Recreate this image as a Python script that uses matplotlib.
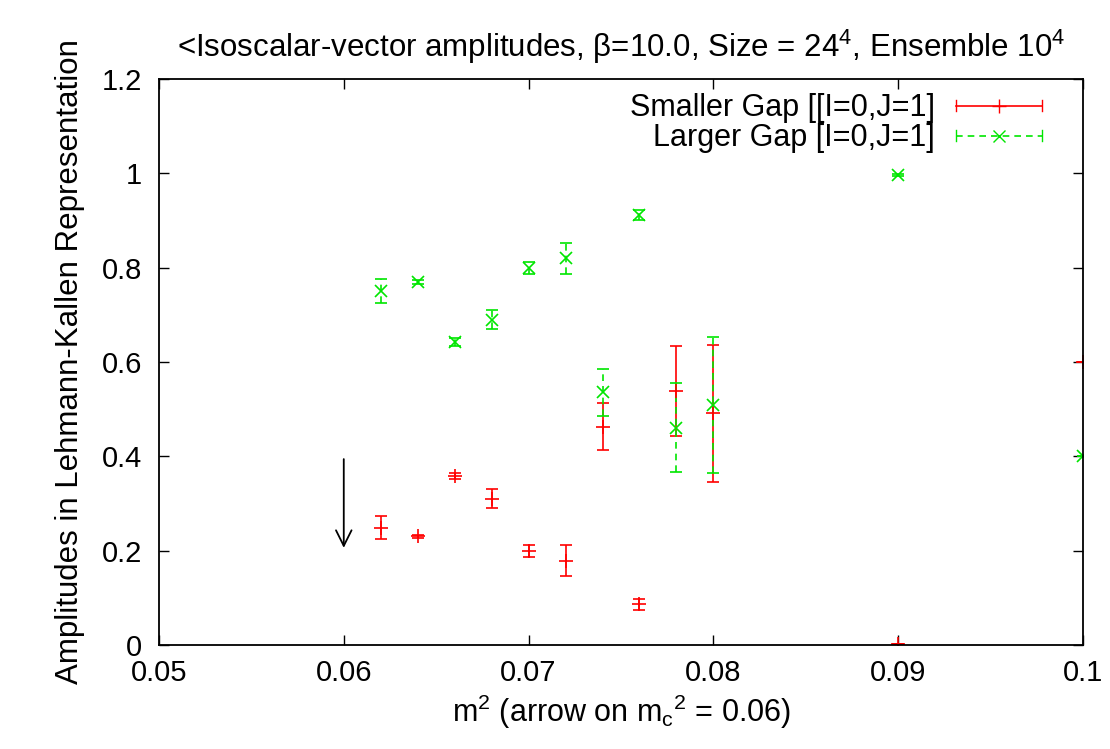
import numpy as np
import matplotlib.pyplot as plt
from matplotlib.lines import Line2D
from matplotlib.legend_handler import HandlerLine2D

plt.rcParams['font.family'] = ['Liberation Sans', 'DejaVu Sans']
plt.rcParams['mathtext.default'] = 'regular'

# smaller gap [I=0,J=1]
m2_small = [0.062, 0.064, 0.066, 0.068, 0.070, 0.072, 0.074, 0.076, 0.078, 0.080, 0.090, 0.100]
amp_small = [0.249, 0.230, 0.358, 0.310, 0.199, 0.179, 0.463, 0.086, 0.538, 0.491, 0.002, 0.600]
err_small = [0.025, 0.003, 0.007, 0.020, 0.012, 0.033, 0.050, 0.012, 0.095, 0.145, 0.0, 0.0]

# larger gap [I=0,J=1]
m2_large = [0.062, 0.064, 0.066, 0.068, 0.070, 0.072, 0.074, 0.076, 0.078, 0.080, 0.090, 0.100]
amp_large = [0.751, 0.770, 0.642, 0.690, 0.799, 0.820, 0.536, 0.912, 0.461, 0.509, 0.996, 0.401]
err_large = [0.025, 0.004, 0.008, 0.020, 0.012, 0.033, 0.050, 0.010, 0.095, 0.145, 0.002, 0.0]

m2_c = 0.06
arrow_from = 0.4
arrow_to = 0.2

red = '#ff0000'
green = '#00e600'


class CapHandler(HandlerLine2D):
    # gnuplot style legend sample: line with caps at both ends
    def create_artists(self, legend, orig_handle, xdescent, ydescent,
                       width, height, fontsize, trans):
        arts = super().create_artists(legend, orig_handle, xdescent, ydescent,
                                      width, height, fontsize, trans)
        y = height / 2 - ydescent
        for x in (-xdescent, width - xdescent):
            cap = Line2D([x, x], [y - 4, y + 4], color=orig_handle.get_color(),
                         lw=1, transform=trans)
            arts.append(cap)
        return arts


fig = plt.figure(figsize=(11.1, 7.49), dpi=100)
ax = fig.add_axes([0.1432, 0.1389, 0.8325, 0.7556])

ax.errorbar(m2_small, amp_small, yerr=err_small, fmt='+', color=red,
            ms=10, mew=1.2, elinewidth=1.2, capsize=4, capthick=1.2)
eb = ax.errorbar(m2_large, amp_large, yerr=err_large, fmt='x', color=green,
                 ms=9, mew=1.2, elinewidth=1.2, capsize=4, capthick=1.2)
eb[2][0].set_linestyle((0, (4, 3)))

ax.annotate('', xy=(m2_c, arrow_to), xytext=(m2_c, arrow_from),
            arrowprops=dict(arrowstyle='->', color='black', lw=1.3,
                            mutation_scale=28))

ax.set_xlim(0.05, 0.1)
ax.set_ylim(0, 1.2)
ax.set_xticks(np.arange(0.05, 0.1001, 0.01))
ax.set_xticklabels(['0.05', '0.06', '0.07', '0.08', '0.09', '0.1'])
ax.set_yticks(np.arange(0, 1.201, 0.2))
ax.set_yticklabels(['0', '0.2', '0.4', '0.6', '0.8', '1', '1.2'])
ax.tick_params(direction='in', length=7, width=1, top=True, right=True,
               labelsize=21)
ax.tick_params(axis='x', pad=10)
ax.tick_params(axis='y', pad=12)
for s in ax.spines.values():
    s.set_linewidth(1.3)

ax.set_title('<Isoscalar-vector amplitudes, β=10.0, Size = 24$^4$, Ensemble 10$^4$',
             fontsize=22.5, pad=16)
ax.set_xlabel('m$^2$ (arrow on m$_c$$^2$ = 0.06)', fontsize=22, labelpad=4)
ax.set_ylabel('Amplitudes in Lehmann-Kallen Representation', fontsize=22.5, labelpad=12)

h1 = Line2D([], [], color=red, marker='+', ms=10, lw=1.2)
h2 = Line2D([], [], color=green, marker='x', ms=9, lw=1.2, ls=(0, (4, 3)))
ax.legend([h1, h2], ['Smaller Gap [[I=0,J=1]', 'Larger Gap [I=0,J=1]'],
          loc='upper right', bbox_to_anchor=(0.98, 1.015), frameon=False,
          markerfirst=False, fontsize=22, handlelength=2.8, handletextpad=0.7,
          labelspacing=0.0, borderpad=0.25,
          handler_map={Line2D: CapHandler()})

fig.savefig('out.png', dpi=100)
